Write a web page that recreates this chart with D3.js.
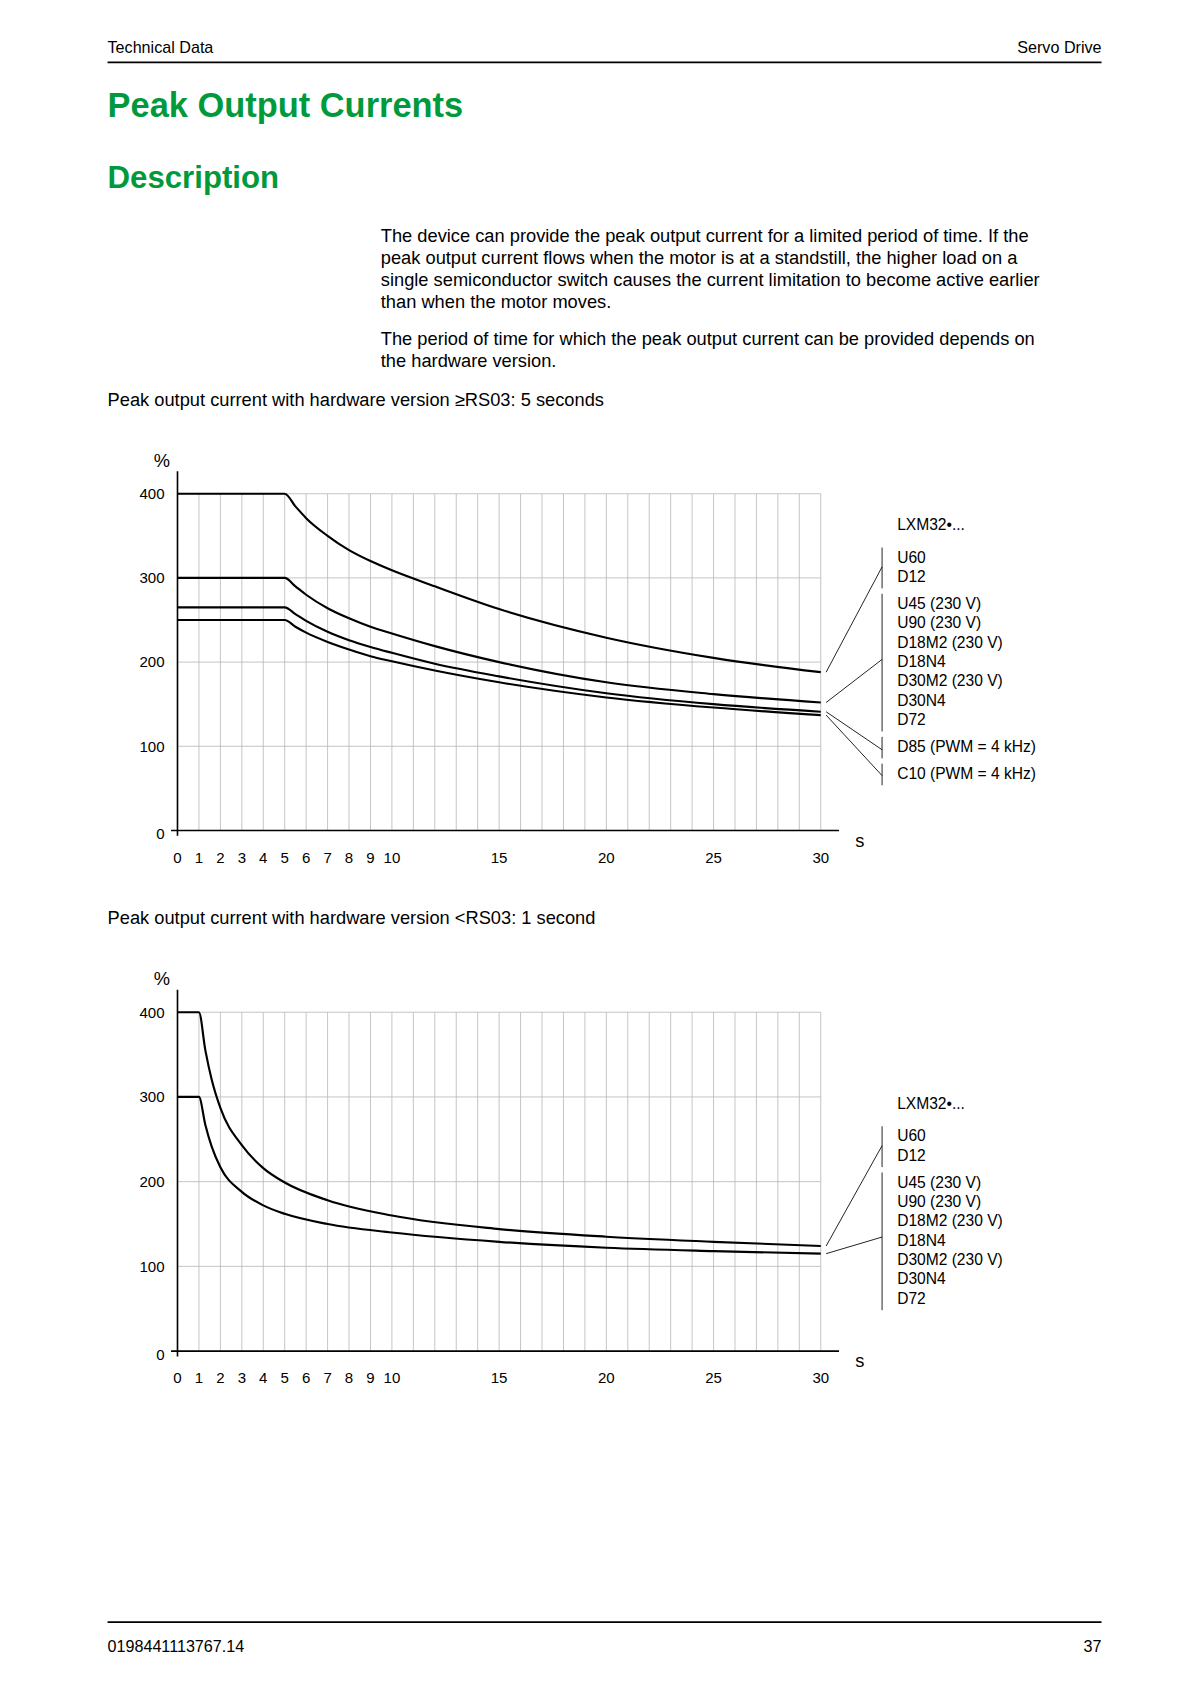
<!DOCTYPE html>
<head>
<meta charset="utf-8">
<script src="https://d3js.org/d3.v7.min.js"></script>
<style>
  body { margin:0; font-family:"Liberation Sans", Arial, sans-serif; color:#000; }
  svg text { font-family:"Liberation Sans", Arial, sans-serif; }
</style>
</head>
<body>
<svg id="page" width="1191" height="1684"></svg>
<script>
// curve data (seconds, % of rated current)
const times1 = [0, 5, 5.5, 6, 7, 8, 9, 10, 12, 15, 20, 25, 30];
const curves1 = [
  [400, 400, 385, 371, 350, 333, 320, 309, 290, 263, 229, 205, 188],
  [300, 300, 290, 280, 264, 252, 242, 234, 219, 200, 176, 162, 152],
  [265, 265, 257, 249, 236, 226, 218, 211, 198, 183, 163, 150, 141],
  [250, 250, 242, 235, 224, 215, 207, 201, 190, 176, 158, 146, 137]
];
const times2 = [0, 1, 1.3, 1.6, 2, 3, 4, 5, 7, 10, 15, 20, 25, 30];
const curves2 = [
  [400, 400, 355, 320, 287, 243, 216, 199, 178, 160, 144, 135, 129, 124],
  [300, 300, 267, 241, 217, 188, 172, 162, 150, 140, 129, 122, 118, 115]
];
const xTickLabels = [0,1,2,3,4,5,6,7,8,9,10,15,20,25,30];
const yTickLabels = [0,100,200,300,400];
const legend1 = [
  {names:["U60","D12"], curve:0},
  {names:["U45 (230 V)","U90 (230 V)","D18M2 (230 V)","D18N4","D30M2 (230 V)","D30N4","D72"], curve:1},
  {names:["D85 (PWM = 4 kHz)"], curve:2},
  {names:["C10 (PWM = 4 kHz)"], curve:3}
];
const legend2 = legend1.slice(0, 2);

const root = d3.select("#page");
root.append("rect").attr("width",1191).attr("height",1684).attr("fill","#fff");
const svg = root.append("g").attr("transform","scale(1.0757)");

// header / footer
svg.append("text").attr("x",100).attr("y",49).attr("font-size",15).text("Technical Data");
svg.append("text").attr("x",1024).attr("y",49).attr("font-size",15).attr("text-anchor","end").text("Servo Drive");
svg.append("line").attr("x1",100).attr("x2",1024).attr("y1",58).attr("y2",58).attr("stroke","#000").attr("stroke-width",1.5);
svg.append("line").attr("x1",100).attr("x2",1024).attr("y1",1508).attr("y2",1508).attr("stroke","#000").attr("stroke-width",1.5);
svg.append("text").attr("x",100).attr("y",1536).attr("font-size",15).text("0198441113767.14");
svg.append("text").attr("x",1024).attr("y",1536).attr("font-size",15).attr("text-anchor","end").text("37");

svg.append("text").attr("x",100).attr("y",109).attr("font-size",32).attr("font-weight","bold").attr("fill","#009a3d").text("Peak Output Currents");
svg.append("text").attr("x",100).attr("y",175).attr("font-size",29).attr("font-weight","bold").attr("fill","#009a3d").text("Description");

const para = [
  ["The device can provide the peak output current for a limited period of time. If the",
   "peak output current flows when the motor is at a standstill, the higher load on a",
   "single semiconductor switch causes the current limitation to become active earlier",
   "than when the motor moves."],
  ["The period of time for which the peak output current can be provided depends on",
   "the hardware version."]
];
[[225, para[0]], [321, para[1]]].forEach(([y0, lines]) => {
  lines.forEach((l, i) => svg.append("text").attr("x",354).attr("y",y0 + i*20.3).attr("font-size",17).text(l));
});
svg.append("text").attr("x",100).attr("y",377).attr("font-size",17).text("Peak output current with hardware version \u2265RS03: 5 seconds");
svg.append("text").attr("x",100).attr("y",859).attr("font-size",17).text("Peak output current with hardware version <RS03: 1 second");

function chart(y0, y400, times, curves, legend, legendTop, groups) {
  const x = d3.scaleLinear().domain([0,30]).range([165,763]);
  const y = d3.scaleLinear().domain([0,400]).range([y0, y400]);
  const g = svg.append("g");
  // grid
  g.selectAll(".vg").data(d3.range(1,31)).join("line")
    .attr("x1",d=>x(d)).attr("x2",d=>x(d)).attr("y1",y(0)).attr("y2",y(400))
    .attr("stroke","#bbb").attr("stroke-width",0.8);
  g.selectAll(".hg").data([100,200,300,400]).join("line")
    .attr("x1",x(0)).attr("x2",x(30)).attr("y1",d=>y(d)).attr("y2",d=>y(d))
    .attr("stroke","#bbb").attr("stroke-width",0.8);
  // axes
  g.append("line").attr("x1",x(0)).attr("x2",x(0)).attr("y1",y(0)+5).attr("y2",y(400)-21).attr("stroke","#000").attr("stroke-width",1.5);
  g.append("line").attr("x1",x(0)-6).attr("x2",x(30)+17).attr("y1",y(0)).attr("y2",y(0)).attr("stroke","#000").attr("stroke-width",1.5);
  g.selectAll(".yl").data(yTickLabels).join("text")
    .attr("x",153).attr("y",d=>y(d)+ (d===0?8:5)).attr("text-anchor","end").attr("font-size",14).text(d=>d);
  g.selectAll(".xl").data(xTickLabels).join("text")
    .attr("x",d=>x(d)).attr("y",y(0)+30).attr("text-anchor","middle").attr("font-size",14).text(d=>d);
  g.append("text").attr("x",143).attr("y",y(400)-25).attr("font-size",17).text("%");
  g.append("text").attr("x",795).attr("y",y(0)+15).attr("font-size",17).text("s");
  // curves
  const line = d3.line().x((d,i)=>x(times[i])).y(d=>y(d)).curve(d3.curveMonotoneX);
  g.selectAll(".c").data(curves).join("path").attr("d",line)
    .attr("fill","none").attr("stroke","#000").attr("stroke-width",2);
  // legend
  g.append("text").attr("x",834).attr("y",legendTop).attr("font-size",14.5).text("LXM32\u2022...");
  let ly = legendTop + 30;
  legend.forEach((grp, gi) => {
    const top = ly - 14, bot = ly + (grp.names.length-1)*18 + 6;
    grp.names.forEach((n,i) => g.append("text").attr("x",834).attr("y",ly + i*18).attr("font-size",14.5).text(n));
    g.append("line").attr("x1",820).attr("x2",820).attr("y1",top).attr("y2",bot).attr("stroke","#000").attr("stroke-width",0.8);
    const c = curves[grp.curve];
    g.append("line").attr("x1",x(30)+5).attr("y1",y(c[c.length-1])).attr("x2",820).attr("y2",groups[gi])
      .attr("stroke","#000").attr("stroke-width",0.8);
    ly = bot + 19;
  });
}
chart(772, 459, times1, curves1, legend1, 493, [527, 613, 697, 721]);
chart(1256, 941, times2, curves2, legend2, 1031, [1065, 1150]);
</script>
</body>
